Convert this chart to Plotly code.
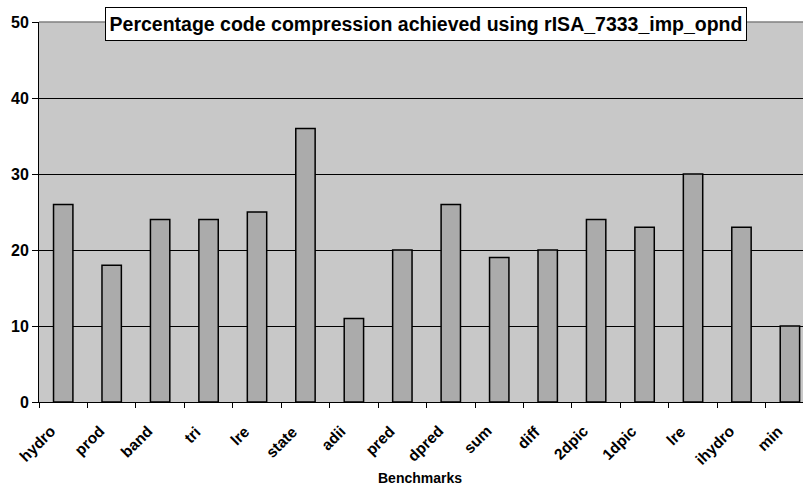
import plotly.graph_objects as go

categories = ["hydro", "prod", "band", "tri", "lre", "state", "adii", "pred",
              "dpred", "sum", "diff", "2dpic", "1dpic", "lre", "ihydro", "min"]
values = [26, 18, 24, 24, 25, 36, 11, 20, 26, 19, 20, 24, 23, 30, 23, 10]
y_ticks = [0, 10, 20, 30, 40, 50]
title_text = "Percentage code compression achieved using rISA_7333_imp_opnd"
x_title = "Benchmarks"

positions = list(range(len(categories)))
boundaries = [p - 0.5 for p in positions] + [len(categories) - 0.5]
xrange = [-0.5, 15.27]

FONT = "Liberation Sans, Arial, sans-serif"
PLOT_H = 380

fig = go.Figure()
fig.add_trace(go.Bar(
    x=positions, y=values, width=0.4,
    marker=dict(color="#ABABAB", line=dict(color="black", width=1.5)),
    showlegend=False, hoverinfo="skip",
))

label_annotations = [
    dict(text=name, x=pos, xref="x", y=-19 / PLOT_H, yref="paper",
         xanchor="right", yanchor="top", textangle=-45, showarrow=False,
         xshift=-3, borderpad=0,
         font=dict(family=FONT, size=15.5, weight="bold", color="black"))
    for pos, name in zip(positions, categories)
]

fig.update_layout(
    width=803, height=489,
    margin=dict(l=39, r=0, t=22, b=87, autoexpand=False),
    paper_bgcolor="white", plot_bgcolor="#C8C8C8",
    font=dict(family=FONT, color="black", size=14),
    xaxis=dict(range=xrange, tickmode="array", tickvals=boundaries,
               showticklabels=False, ticks="outside", ticklen=5,
               tickcolor="black", tickwidth=1, showgrid=False, zeroline=False,
               showline=True, linecolor="black", linewidth=1),
    yaxis=dict(range=[0, 50], tickmode="array", tickvals=y_ticks,
               ticks="outside", ticklen=6, tickcolor="black", tickwidth=1,
               showgrid=True, gridcolor="black", gridwidth=1, zeroline=False,
               showline=True, linecolor="black", linewidth=1,
               tickfont=dict(family=FONT, size=16, weight="bold", color="black")),
    bargap=0.6,
    shapes=[dict(type="line", xref="paper", yref="paper", x0=0, x1=1, y0=1, y1=1,
                 line=dict(color="#808080", width=1.5), layer="above")],
    annotations=[
        dict(text=title_text, xref="paper", yref="paper", x=(426 - 39) / 764,
             y=1 - 2 / PLOT_H, xanchor="center", yanchor="middle", showarrow=False,
             font=dict(family=FONT, size=19.5, weight="bold", color="black"),
             bgcolor="white", bordercolor="black", borderwidth=1, borderpad=1,
             width=638, height=30),
        dict(text=x_title, xref="paper", yref="paper", x=(420 - 39) / 764,
             y=-(478 - 402) / PLOT_H, xanchor="center", yanchor="middle", showarrow=False,
             font=dict(family=FONT, size=14, weight="bold", color="black")),
    ] + label_annotations,
)

fig.write_html("out.html")
